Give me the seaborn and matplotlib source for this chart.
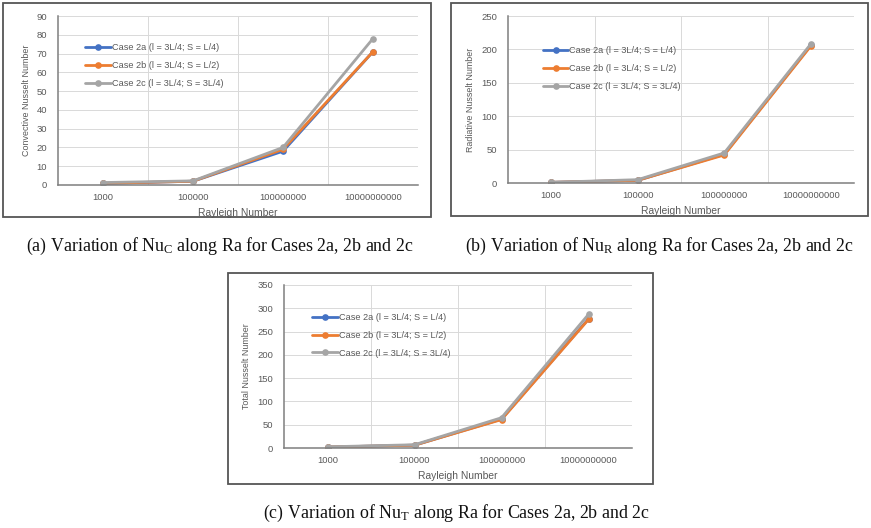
import numpy as np
import pandas as pd
import matplotlib
matplotlib.use("Agg")
import matplotlib.pyplot as plt
import seaborn as sns
from matplotlib.ticker import MultipleLocator, AutoMinorLocator
from matplotlib.patches import Rectangle

# data
rayleigh = ["1000", "100000", "100000000", "10000000000"]
cases = ["Case 2a (l = 3L/4; S = L/4)",
         "Case 2b (l = 3L/4; S = L/2)",
         "Case 2c (l = 3L/4; S = 3L/4)"]

nu_conv_2a = [0.8, 2.0, 18.0, 71.0]
nu_conv_2b = [0.9, 2.0, 19.0, 71.0]
nu_conv_2c = [1.3, 2.2, 20.0, 78.0]

nu_rad_2a = [1.0, 4.0, 43.0, 206.0]
nu_rad_2b = [1.0, 4.0, 42.0, 205.0]
nu_rad_2c = [1.0, 5.0, 45.0, 208.0]

nu_tot_2a = [2.0, 6.0, 62.0, 277.0]
nu_tot_2b = [2.0, 6.0, 61.0, 276.0]
nu_tot_2c = [2.5, 7.0, 65.0, 287.0]

colors = ["#4472C4", "#ED7D31", "#A5A5A5"]


def make_df(s2a, s2b, s2c):
    rows = []
    for case, vals in zip(cases, [s2a, s2b, s2c]):
        for i, (ra, v) in enumerate(zip(rayleigh, vals)):
            rows.append({"Ra": ra, "pos": i, "Nu": v, "Case": case})
    return pd.DataFrame(rows)


sns.set_style("white")
plt.rcParams["font.family"] = ["Liberation Sans", "DejaVu Sans"]
plt.rcParams["mathtext.fontset"] = "custom"
plt.rcParams["mathtext.rm"] = "Liberation Serif"
plt.rcParams["mathtext.it"] = "Liberation Serif:italic"

W, H = 871, 528
fig = plt.figure(figsize=(W / 100, H / 100), dpi=100)
fig.patch.set_facecolor("white")


def px_axes(left, right, top, bottom):
    return fig.add_axes([left / W, 1 - bottom / H, (right - left) / W, (bottom - top) / H])


def box(left, right, top, bottom):
    fig.patches.append(Rectangle((left / W, 1 - bottom / H), (right - left) / W, (bottom - top) / H,
                                 transform=fig.transFigure, fill=False, edgecolor="#555555",
                                 linewidth=1.3, zorder=0))


def panel(ax, df, ymax, ystep, nminor, ylabel, leg_anchor):
    sns.lineplot(data=df, x="pos", y="Nu", hue="Case", hue_order=cases, palette=colors,
                 marker="o", markersize=4.8, markeredgewidth=0, linewidth=2.0, ax=ax)
    ax.set_xlim(-0.5, 3.5)
    ax.set_ylim(0, ymax)
    ax.set_xticks(range(len(rayleigh)))
    ax.set_xticklabels(rayleigh)
    ax.set_xticks([-0.5, 0.5, 1.5, 2.5, 3.5], minor=True)
    ax.yaxis.set_major_locator(MultipleLocator(ystep))
    ax.yaxis.set_minor_locator(AutoMinorLocator(nminor))
    ax.tick_params(axis="x", which="major", length=0, labelsize=6.8, labelcolor="#595959", pad=6)
    ax.tick_params(axis="x", which="minor", length=4, direction="out", color="#7f7f7f")
    ax.tick_params(axis="y", which="major", length=4, direction="inout", color="#7f7f7f",
                   labelsize=6.8, labelcolor="#595959", pad=6)
    ax.tick_params(axis="y", which="minor", length=3, direction="inout", color="#7f7f7f")
    ax.yaxis.grid(True, which="major", color="#D9D9D9", linewidth=0.7)
    for b in [0.5, 1.5, 2.5]:
        ax.axvline(b, color="#D9D9D9", linewidth=0.7, zorder=0)
    ax.set_axisbelow(True)
    for s in ["top", "right"]:
        ax.spines[s].set_visible(False)
    for s in ["left", "bottom"]:
        ax.spines[s].set_color("#7f7f7f")
        ax.spines[s].set_linewidth(1.1)
    ax.set_xlabel("Rayleigh Number", fontsize=7.4, color="#595959", labelpad=4)
    ax.set_ylabel(ylabel, fontsize=6.4, color="#595959", labelpad=4)
    ax.legend(loc="upper left", bbox_to_anchor=leg_anchor, frameon=False, fontsize=6.6,
              handlelength=2.8, handletextpad=0.1, labelspacing=0.95, borderaxespad=0,
              labelcolor="#595959")


# (a) convective
box(3, 431, 3, 217)
ax_a = px_axes(58, 418, 16, 185)
panel(ax_a, make_df(nu_conv_2a, nu_conv_2b, nu_conv_2c), 90, 10, 5,
      "Convective Nusselt Number", (0.065, 0.86))

# (b) radiative
box(451, 868, 3, 216)
ax_b = px_axes(508, 854, 16, 183)
panel(ax_b, make_df(nu_rad_2a, nu_rad_2b, nu_rad_2c), 250, 50, 10,
      "Radiative Nusselt Number", (0.09, 0.84))

# (c) total
box(228, 653, 273, 484)
ax_c = px_axes(284, 632, 285, 448)
panel(ax_c, make_df(nu_tot_2a, nu_tot_2b, nu_tot_2c), 350, 50, 10,
      "Total Nusselt Number", (0.07, 0.85))

cap = dict(fontsize=12.9, family="Liberation Serif", ha="center", va="center", color="#111111")
fig.text(220 / W, 1 - 246 / H, r"(a) Variation of Nu$_\mathrm{C}$ along Ra for Cases 2a, 2b and 2c", **cap)
fig.text(659 / W, 1 - 246 / H, r"(b) Variation of Nu$_\mathrm{R}$ along Ra for Cases 2a, 2b and 2c", **cap)
fig.text(456 / W, 1 - 513 / H, r"(c) Variation of Nu$_\mathrm{T}$ along Ra for Cases 2a, 2b and 2c", **cap)

fig.savefig("out.png", dpi=100)
